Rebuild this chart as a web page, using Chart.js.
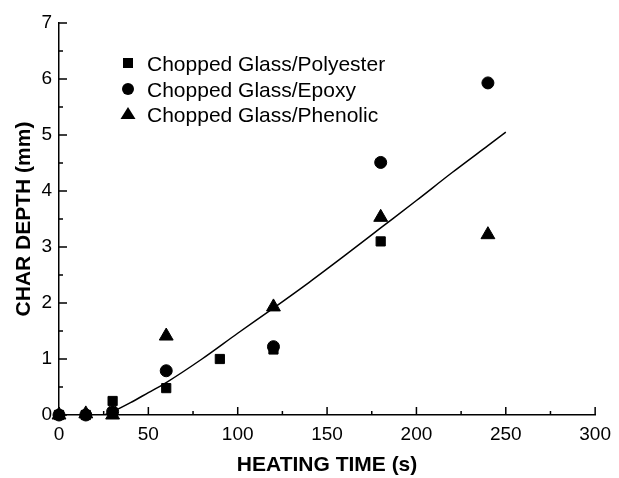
<!DOCTYPE html>
<html>
<head>
<meta charset="utf-8">
<script src="https://cdn.jsdelivr.net/npm/chart.js@4.4.1/dist/chart.umd.min.js"></script>
<style>
  html, body { margin: 0; padding: 0; background: #fff; }
  #wrap { width: 619px; height: 478px; position: relative; }
</style>
</head>
<body>
<div id="wrap"><canvas id="myChart"></canvas></div>
<script>
// values
var polyX = [0, 15, 30, 60, 90, 120, 180];
var polyY = [0, 0, 0.25, 0.48, 1.0, 1.17, 3.1];

var epoxyX = [0, 15, 30, 60, 120, 180, 240];
var epoxyY = [0, 0, 0.06, 0.79, 1.22, 4.51, 5.93];

var phenX = [0, 15, 30, 60, 120, 180, 240];
var phenY = [0, 0.02, 0, 1.41, 1.93, 3.53, 3.22];

// fitted curve
var fitX = [25, 30, 40, 50, 60, 80, 100, 120, 140, 160, 180, 200, 220, 240, 250];
var fitY = [0, 0.06, 0.22, 0.40, 0.58, 1.0, 1.46, 1.91, 2.37, 2.85, 3.34, 3.83, 4.33, 4.81, 5.05];

var xTicks = [0, 50, 100, 150, 200, 250, 300];
var yTicks = [0, 1, 2, 3, 4, 5, 6, 7];

var legendNames = ['Chopped Glass/Polyester', 'Chopped Glass/Epoxy', 'Chopped Glass/Phenolic'];

var FONT = '"Liberation Sans", Arial, sans-serif';

function pts(xs, ys) {
  var out = [];
  for (var i = 0; i < xs.length; i++) out.push({ x: xs[i], y: ys[i] });
  return out;
}

// inward ticks like the original plot
var tickPlugin = {
  id: 'inTicks',
  afterDraw: function (chart) {
    var c = chart.ctx, xs = chart.scales.x, ys = chart.scales.y;
    var y0 = ys.getPixelForValue(0), x0 = xs.getPixelForValue(0);
    c.save();
    c.strokeStyle = '#000';
    c.lineWidth = 1.5;
    c.beginPath();
    for (var v = 0; v <= 300; v += 25) {
      var px = xs.getPixelForValue(v);
      var len = (v % 50 === 0) ? 8 : 4;
      c.moveTo(px, y0);
      c.lineTo(px, y0 - len);
    }
    for (var w = 0; w <= 7; w += 0.5) {
      var py = ys.getPixelForValue(w);
      var l2 = (w % 1 === 0) ? 8 : 4;
      c.moveTo(x0, py);
      c.lineTo(x0 + l2, py);
    }
    c.stroke();
    c.restore();
  }
};

// legend drawn inside the plot, top-left
var legendPlugin = {
  id: 'innerLegend',
  afterDraw: function (chart) {
    var c = chart.ctx;
    var mx = 128, tx = 147;
    var base = [71, 97, 122];
    c.save();
    c.fillStyle = '#000';
    c.font = '21px ' + FONT;
    c.textBaseline = 'alphabetic';
    for (var i = 0; i < legendNames.length; i++) {
      var cy = base[i] - 8;
      c.beginPath();
      if (i === 0) {
        c.rect(mx - 5, cy - 5, 10, 10);
      } else if (i === 1) {
        c.arc(mx, cy, 6, 0, Math.PI * 2);
      } else {
        c.moveTo(mx, cy - 7);
        c.lineTo(mx + 7.5, cy + 5);
        c.lineTo(mx - 7.5, cy + 5);
        c.closePath();
      }
      c.fill();
      c.fillText(legendNames[i], tx, base[i]);
    }
    c.restore();
  }
};

var ctx = document.getElementById('myChart').getContext('2d');
var myChart = new Chart(ctx, {
  type: 'scatter',
  data: {
    datasets: [{
      label: 'Fit',
      type: 'line',
      data: pts(fitX, fitY),
      borderColor: '#000',
      borderWidth: 1.5,
      pointRadius: 0,
      cubicInterpolationMode: 'monotone',
      fill: false
    }, {
      label: legendNames[0],
      data: pts(polyX, polyY),
      pointStyle: 'rect',
      pointRadius: 6.5,
      backgroundColor: '#000',
      borderColor: '#000',
      clip: false
    }, {
      label: legendNames[1],
      data: pts(epoxyX, epoxyY),
      pointStyle: 'circle',
      pointRadius: 6,
      backgroundColor: '#000',
      borderColor: '#000',
      clip: false
    }, {
      label: legendNames[2],
      data: pts(phenX, phenY),
      pointStyle: 'triangle',
      pointRadius: 8,
      backgroundColor: '#000',
      borderColor: '#000',
      clip: false
    }]
  },
  options: {
    responsive: true,
    maintainAspectRatio: false,
    animation: false,
    layout: { padding: { top: 23, right: 20, left: 0, bottom: 0 } },
    plugins: {
      legend: { display: false },
      tooltip: { enabled: false }
    },
    scales: {
      x: {
        type: 'linear',
        min: 0,
        max: 300,
        afterBuildTicks: function (s) { s.ticks = xTicks.map(function (v) { return { value: v }; }); },
        afterFit: function (s) { s.height = 63; },
        grid: { display: true, drawOnChartArea: false, drawTicks: false },
        border: { display: true, color: '#000', width: 1.5 },
        ticks: {
          color: '#000',
          padding: 8,
          maxRotation: 0,
          font: { family: FONT, size: 19 }
        },
        title: {
          display: true,
          text: 'HEATING TIME (s)',
          color: '#000',
          padding: { top: 4, bottom: 0 },
          font: { family: FONT, size: 21, weight: 'bold' }
        }
      },
      y: {
        type: 'linear',
        min: 0,
        max: 7,
        afterBuildTicks: function (s) { s.ticks = yTicks.map(function (v) { return { value: v }; }); },
        afterFit: function (s) { s.width = 59; },
        grid: { display: true, drawOnChartArea: false, drawTicks: false },
        border: { display: true, color: '#000', width: 1.5 },
        ticks: {
          color: '#000',
          padding: 7,
          font: { family: FONT, size: 19 }
        },
        title: {
          display: true,
          text: 'CHAR DEPTH (mm)',
          color: '#000',
          padding: { top: 12, bottom: 0 },
          font: { family: FONT, size: 21, weight: 'bold' }
        }
      }
    }
  },
  plugins: [tickPlugin, legendPlugin]
});
</script>
</body>
</html>
